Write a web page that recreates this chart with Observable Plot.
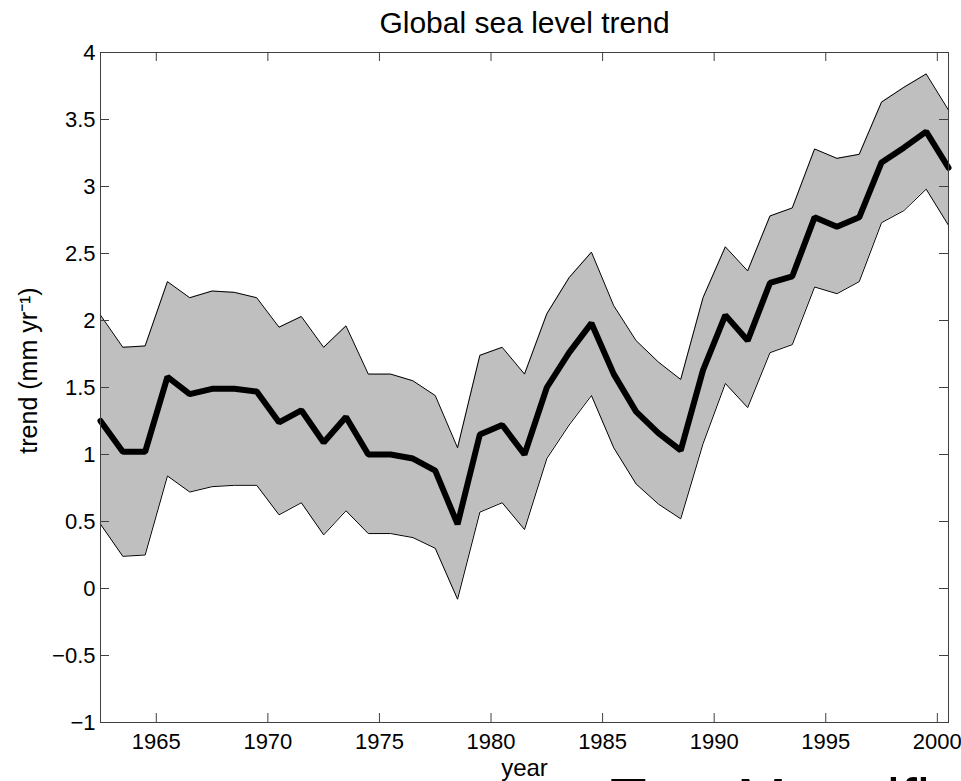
<!DOCTYPE html>
<html><head><meta charset="utf-8">
<script src="https://cdn.jsdelivr.net/npm/d3@7"></script>
<script src="https://cdn.jsdelivr.net/npm/@observablehq/plot@0.6"></script>
<style>
html,body{margin:0;padding:0;overflow:hidden;background:#fff}
#wm{position:absolute;left:610px;top:770px;font:60px "Liberation Sans",Arial,sans-serif;white-space:nowrap;color:#000;line-height:1}
</style></head><body>
<div id="chart"></div>
<div id="wm">Text Magnified</div>
<script>
const years = [1962.5,1963.5,1964.5,1965.5,1966.5,1967.5,1968.5,1969.5,1970.5,1971.5,1972.5,1973.5,1974.5,1975.5,1976.5,1977.5,1978.5,1979.5,1980.5,1981.5,1982.5,1983.5,1984.5,1985.5,1986.5,1987.5,1988.5,1989.5,1990.5,1991.5,1992.5,1993.5,1994.5,1995.5,1996.5,1997.5,1998.5,1999.5,2000.5];
const trend = [1.25,1.02,1.02,1.58,1.45,1.49,1.49,1.47,1.24,1.33,1.09,1.28,1.00,1.00,0.97,0.88,0.48,1.15,1.22,1.00,1.50,1.76,1.98,1.60,1.32,1.16,1.03,1.63,2.04,1.85,2.28,2.33,2.77,2.70,2.77,3.18,3.29,3.41,3.14];
const upper = [2.04,1.80,1.81,2.29,2.17,2.22,2.21,2.17,1.95,2.03,1.80,1.96,1.60,1.60,1.55,1.44,1.05,1.74,1.80,1.60,2.05,2.32,2.51,2.11,1.85,1.69,1.56,2.17,2.55,2.37,2.78,2.84,3.28,3.21,3.24,3.63,3.74,3.84,3.57];
const lower = [0.48,0.24,0.25,0.84,0.72,0.76,0.77,0.77,0.55,0.64,0.40,0.58,0.41,0.41,0.38,0.30,-0.08,0.57,0.64,0.44,0.97,1.22,1.44,1.05,0.78,0.63,0.52,1.08,1.53,1.35,1.76,1.82,2.25,2.20,2.29,2.73,2.82,2.98,2.71];
const xTicks = [1965,1970,1975,1980,1985,1990,1995,2000];
const yTicks = [-1,-0.5,0,0.5,1,1.5,2,2.5,3,3.5,4];
const title = "Global sea level trend";
const xLabel = "year";
const yLabel = "trend (mm yr\u207B\u00B9)";

const data = years.map((year, i) => ({year, trend: trend[i], upper: upper[i], lower: lower[i]}));
const W = 961, H = 781, mL = 100, mR = 13, mT = 52, mB = 59;
const fw = W - mL - mR, fh = H - mT - mB;
const fmt = d => d < 0 ? "\u2212" + Math.abs(d) : String(d);
const axisColor = "#404040";

const chart = Plot.plot({
  width: W, height: H,
  marginLeft: mL, marginRight: mR, marginTop: mT, marginBottom: mB,
  style: {fontFamily: '"Liberation Sans", Arial, Helvetica, sans-serif', fontSize: "22px", background: "#fff", color: "#000"},
  x: {domain: [1962.5, 2000.5]},
  y: {domain: [-1, 4]},
  marks: [
    Plot.areaY(data, {x: "year", y1: "lower", y2: "upper", fill: "#bfbfbf"}),
    Plot.lineY(data, {x: "year", y: "upper", stroke: "#000", strokeWidth: 1}),
    Plot.lineY(data, {x: "year", y: "lower", stroke: "#000", strokeWidth: 1}),
    Plot.lineY(data, {x: "year", y: "trend", stroke: "#000", strokeWidth: 6, strokeLinejoin: "miter"}),
    Plot.frame({stroke: axisColor}),
    Plot.tickX(xTicks, {x: d => d, insetTop: fh - 9, stroke: axisColor}),
    Plot.tickX(xTicks, {x: d => d, insetBottom: fh - 9, stroke: axisColor}),
    Plot.tickY(yTicks, {y: d => d, insetRight: fw - 9, stroke: axisColor}),
    Plot.tickY(yTicks, {y: d => d, insetLeft: fw - 9, stroke: axisColor}),
    Plot.axisX({ticks: xTicks, tickSize: 0, tickPadding: 11, tickFormat: d => String(d), fontSize: 22, label: null}),
    Plot.axisY({ticks: yTicks, tickSize: 0, tickPadding: 5, tickFormat: fmt, fontSize: 22, label: null}),
    Plot.text([title], {frameAnchor: "top", dy: -20, lineAnchor: "bottom", fontSize: 30, text: d => d}),
    Plot.text([xLabel], {frameAnchor: "bottom", dy: 53, lineAnchor: "bottom", fontSize: 24, text: d => d}),
    Plot.text([yLabel], {frameAnchor: "left", textAnchor: "middle", rotate: -90, dx: -64, dy: -17, lineAnchor: "bottom", fontSize: 25, text: d => d})
  ]
});
document.getElementById("chart").appendChild(chart);
</script>
</body></html>
